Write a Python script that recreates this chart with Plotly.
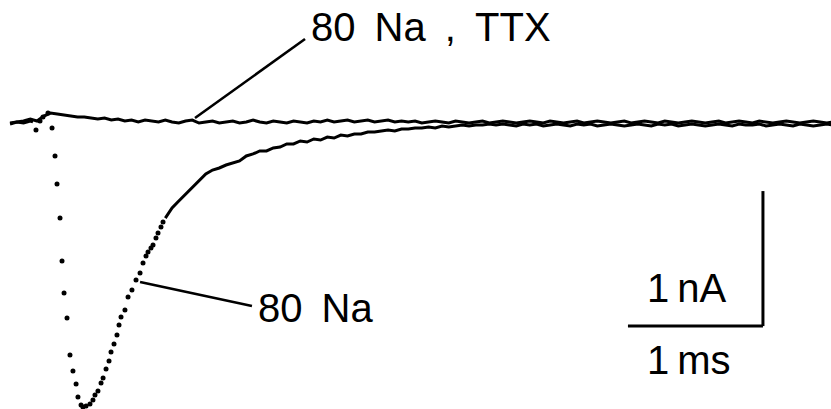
import numpy as np
import plotly.graph_objects as go

# Sampling grid of the digitised sweeps (ms)
T0 = -0.17
DT = 0.05

# 80 Na + TTX: membrane current (nA), one value per sample from T0
ttx_current = [
    -0.015, -0.007, 0.0, 0.015, 0.0,
    0.037, 0.059, 0.052, 0.044, 0.037, 0.030, 0.030, 0.022, 0.015,
    0.022, 0.007, 0.015, 0.0, 0.007, -0.007, 0.007, 0.0, -0.007,
    0.007, -0.007, -0.015, 0.0, 0.007, -0.015, -0.007, 0.0, -0.015,
    -0.007, 0.0, -0.015, -0.007, 0.007, -0.007, -0.015, 0.0, -0.007,
    -0.015, 0.0, -0.007, -0.015, 0.0, -0.007, 0.007, -0.007, 0.0,
    0.007, -0.007, 0.0, 0.007, -0.007, 0.0, 0.007, -0.007, 0.0,
    -0.007, 0.0, -0.015, -0.007, 0.0, -0.007, -0.015, 0.0, -0.007,
    -0.015, -0.007, 0.0, -0.015, -0.007, 0.0, -0.007, -0.015, -0.007,
    0.0, -0.007, -0.015, 0.0, -0.007, -0.015, -0.007, 0.0, -0.015,
    -0.007, 0.0, -0.007, -0.015, -0.007, 0.0, -0.015, -0.007, 0.0,
    -0.007, -0.015, 0.0, -0.007, -0.015, -0.007, 0.0, -0.007, -0.015,
    -0.007, 0.0, -0.015, -0.007, 0.0, -0.007, -0.015, 0.0, -0.007,
    -0.015, -0.007, 0.0, -0.007, -0.015, -0.007, 0.0, -0.007, -0.015, -0.007,
]

# Stimulus artefact samples of the TTX sweep (ms, nA)
ttx_artefact_time = [0.052, 0.074, 0.111]
ttx_artefact_current = [0.0, 0.030, 0.059]

# 80 Na: holding level before the step (ms, nA)
na_pre_time = [-0.17, -0.12, -0.07, -0.02, 0.0]
na_pre_current = [-0.022, -0.007, -0.015, 0.0, -0.007]

# 80 Na: fast part of the inward current, individual samples (ms, nA)
na_fast_time = [
    0.022, 0.141, 0.163, 0.178, 0.200, 0.215, 0.230, 0.252, 0.274, 0.296,
    0.319, 0.333, 0.356, 0.370, 0.393, 0.422, 0.444, 0.459, 0.481, 0.504,
    0.519, 0.541, 0.563, 0.578, 0.600, 0.622, 0.637, 0.652, 0.681, 0.704,
    0.733, 0.763, 0.793, 0.815, 0.837, 0.852, 0.874, 0.889, 0.911, 0.926,
    0.948, 0.963,
]
na_fast_current = [
    -0.067, -0.052, -0.259, -0.467, -0.719, -1.037, -1.274, -1.459, -1.733, -1.852,
    -1.948, -2.044, -2.104, -2.119, -2.111, -2.096, -2.067, -2.030, -2.000, -1.941,
    -1.904, -1.837, -1.778, -1.711, -1.652, -1.585, -1.511, -1.452, -1.400, -1.304,
    -1.252, -1.178, -1.126, -1.052, -1.000, -0.970, -0.941, -0.919, -0.867, -0.830,
    -0.785, -0.748,
]

# 80 Na: slow decay, sampled on the same grid starting at TAIL_T0 (nA)
TAIL_T0 = 0.98
na_tail_current = [
    -0.719, -0.644, -0.593, -0.541, -0.489, -0.437, -0.393, -0.363, -0.348,
    -0.326, -0.311, -0.296, -0.259, -0.244, -0.222, -0.222, -0.200, -0.193,
    -0.170, -0.170, -0.148, -0.156, -0.133, -0.141, -0.119, -0.126, -0.104,
    -0.111, -0.096, -0.096, -0.081, -0.081, -0.074, -0.067, -0.074, -0.059,
    -0.059, -0.052, -0.052, -0.044, -0.052, -0.037, -0.044, -0.037, -0.030,
    -0.037, -0.030, -0.030, -0.022, -0.030, -0.022, -0.030, -0.037, -0.022,
    -0.030, -0.022, -0.037, -0.030, -0.022, -0.030, -0.037, -0.022, -0.030, -0.022,
    -0.037, -0.030, -0.022, -0.030, -0.037, -0.030, -0.022, -0.030, -0.037, -0.022,
    -0.030, -0.022, -0.037, -0.030, -0.022, -0.030, -0.037, -0.030, -0.022, -0.030,
    -0.037, -0.022, -0.030, -0.030, -0.022, -0.037, -0.030, -0.022, -0.030, -0.037,
    -0.022, -0.030, -0.037, -0.030, -0.022, -0.030,
]

# Calibration bars
SCALE_MS = 1.0
SCALE_NA = 1.0
scale_corner = (5.407, -1.519)

ttx_time = T0 + DT * np.arange(len(ttx_current))
na_tail_time = TAIL_T0 + DT * np.arange(len(na_tail_current))

INK = "#000000"
FONT = "Liberation Sans, Arial, Helvetica, sans-serif"
LW = 3.0
SP = "\u00a0\u2009"   # widened word gap
TH = "\u2009"         # thin gap between value and unit

fig = go.Figure()
fig.add_trace(go.Scatter(x=ttx_time, y=ttx_current, mode="lines",
                         line=dict(color=INK, width=LW), hoverinfo="skip"))
fig.add_trace(go.Scatter(x=ttx_artefact_time, y=ttx_artefact_current, mode="markers",
                         marker=dict(color=INK, size=5), hoverinfo="skip"))
fig.add_trace(go.Scatter(x=na_pre_time, y=na_pre_current, mode="lines",
                         line=dict(color=INK, width=LW), hoverinfo="skip"))
fig.add_trace(go.Scatter(x=na_fast_time, y=na_fast_current, mode="markers",
                         marker=dict(color=INK, size=5), hoverinfo="skip"))
fig.add_trace(go.Scatter(x=na_tail_time, y=na_tail_current, mode="lines",
                         line=dict(color=INK, width=LW), hoverinfo="skip"))

cx, cy = scale_corner
shapes = [
    # leader lines to the two sweeps
    dict(type="line", x0=1.20, y0=0.022, x1=2.015, y1=0.607,
         line=dict(color=INK, width=2.6)),
    dict(type="line", x0=0.793, y0=-1.193, x1=1.622, y1=-1.370,
         line=dict(color=INK, width=2.6)),
    # calibration: time bar and current bar
    dict(type="line", x0=cx - SCALE_MS, y0=cy, x1=cx, y1=cy,
         line=dict(color=INK, width=3)),
    dict(type="line", x0=cx, y0=cy, x1=cx, y1=cy + SCALE_NA,
         line=dict(color=INK, width=3)),
]

annotations = [
    dict(x=2.045, y=0.693, text=f"80{SP}Na{SP},{SP}TTX", xanchor="left", yanchor="middle"),
    dict(x=1.652, y=-1.385, text="80" + SP + "Na", xanchor="left", yanchor="middle"),
    dict(x=cx - SCALE_MS / 2 - 0.06, y=-1.237, text=f"1{TH}nA", xanchor="center", yanchor="middle"),
    dict(x=cx - SCALE_MS / 2 - 0.05, y=-1.770, text=f"1{TH}ms", xanchor="center", yanchor="middle"),
]
for a in annotations:
    a.update(showarrow=False, font=dict(family=FONT, size=40, color=INK))

fig.update_layout(
    width=831, height=409,
    margin=dict(l=0, r=0, t=0, b=0),
    paper_bgcolor="white", plot_bgcolor="white",
    showlegend=False,
    shapes=shapes, annotations=annotations,
    xaxis=dict(range=[-33 / 135, 798 / 135], visible=False, fixedrange=True),
    yaxis=dict(range=[-288 / 135, 121 / 135], visible=False, fixedrange=True),
)

fig.write_html("out.html", config={"displayModeBar": False})
